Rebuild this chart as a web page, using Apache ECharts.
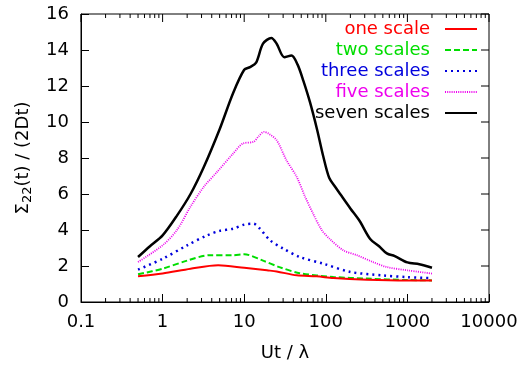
<!DOCTYPE html>
<html><head><meta charset="utf-8">
<script src="https://cdn.jsdelivr.net/npm/echarts@6/dist/echarts.min.js"></script>
<style>html,body{margin:0;padding:0;background:#fff}#c{width:524px;height:367px}</style>
</head><body><div id="c"></div>
<script>
const seriesNames = ['one scale','two scales','three scales','five scales','seven scales'];
const colors = ['#ff0000','#00dd00','#0000dd','#ee00ee','#000000'];

const oneX = [0.5, 1, 2.2, 4.8, 10, 19, 25, 44, 77, 124, 320, 1000, 2000];
const oneY = [1.43, 1.58, 1.85, 2.04, 1.9, 1.76, 1.7, 1.48, 1.43, 1.33, 1.24, 1.2, 1.2];
const twoX = [0.5, 1, 2, 3.8, 7.3, 10, 17, 27, 48, 124, 320, 1000, 2000];
const twoY = [1.54, 1.85, 2.3, 2.6, 2.6, 2.65, 2.3, 1.94, 1.6, 1.39, 1.3, 1.22, 1.2];
const threeX = [0.5, 1, 2, 3.5, 5, 7.3, 10, 13, 15.6, 20.7, 30, 48, 93, 200, 500, 1000, 2000];
const threeY = [1.8, 2.4, 3.15, 3.7, 3.95, 4.07, 4.3, 4.35, 4.07, 3.43, 2.97, 2.5, 2.13, 1.67, 1.48, 1.38, 1.33];
const fiveX = [0.5, 1, 1.5, 2.2, 3.2, 4.6, 7.3, 9.6, 13, 15, 17.5, 20, 25, 33, 44, 56, 70, 89, 112, 164, 240, 380, 560, 1000, 2000];
const fiveY = [2.22, 3.15, 4.0, 5.3, 6.4, 7.2, 8.24, 8.8, 8.9, 9.2, 9.45, 9.35, 8.98, 7.87, 6.95, 5.83, 4.9, 4.0, 3.5, 2.87, 2.6, 2.22, 1.94, 1.76, 1.58];
const sevenX = [0.5, 0.7, 1, 1.5, 2.2, 3.2, 5, 7.3, 10, 11.8, 14, 17, 21.5, 25, 31, 38, 45, 53, 64, 78, 93, 110, 130, 150, 200, 260, 350, 450, 560, 700, 1000, 1400, 2000];
const sevenY = [2.5, 3.1, 3.7, 4.8, 6.0, 7.5, 9.6, 11.6, 12.9, 13.05, 13.3, 14.35, 14.67, 14.35, 13.6, 13.7, 13.2, 12.3, 11.1, 9.6, 8.1, 6.9, 6.4, 6.0, 5.2, 4.5, 3.5, 3.1, 2.7, 2.55, 2.2, 2.1, 1.9];

const xMajorTicks = [0.1, 1, 10, 100, 1000, 10000];
const yMajorTicks = [0, 2, 4, 6, 8, 10, 12, 14, 16];
const minorTicks = [];
[0.1, 1, 10, 100, 1000].forEach(d => { for (let k = 2; k <= 9; k++) minorTicks.push(+(d * k).toPrecision(3)); });

const xs = [oneX, twoX, threeX, fiveX, sevenX];
const ys = [oneY, twoY, threeY, fiveY, sevenY];
const lineStyles = [
  {width: 2, type: 'solid'},
  {width: 2, type: [6, 3]},
  {width: 2.5, type: [2, 4]},
  {width: 1.8, type: [1, 1.2]},
  {width: 2.5, type: 'solid'}
];

const FONT = 'DejaVu Sans';
const FS = 18;

const chart = echarts.init(document.getElementById('c'), null, {renderer: 'canvas'});

const series = seriesNames.map((n, i) => ({
  name: n, type: 'line', xAxisIndex: 0, yAxisIndex: 0,
  data: xs[i].map((x, j) => [x, ys[i][j]]),
  showSymbol: false, symbol: 'none', smooth: 0.3,
  lineStyle: Object.assign({color: colors[i]}, lineStyles[i]),
  itemStyle: {color: colors[i]},
  z: 10 - i
}));

const tickStyle = {stroke: '#000', lineWidth: 1};
series.push({
  type: 'custom', xAxisIndex: 0, yAxisIndex: 0, silent: true,
  data: minorTicks.map(v => [v, 4]).concat(xMajorTicks.map(v => [v, 8])),
  encode: {x: 0},
  renderItem: function (params, api) {
    const len = api.value(1);
    const b = api.coord([api.value(0), 0]);
    const t = api.coord([api.value(0), 16]);
    const ch = [{type: 'line', shape: {x1: t[0], y1: t[1], x2: t[0], y2: t[1] + len}, style: tickStyle}];
    if (len < 8) ch.push({type: 'line', shape: {x1: b[0], y1: b[1], x2: b[0], y2: b[1] - len}, style: tickStyle});
    return {type: 'group', children: ch};
  }
});
series.push({
  type: 'custom', xAxisIndex: 0, yAxisIndex: 0, silent: true,
  data: yMajorTicks.map(v => [10000, v]),
  encode: {x: 0, y: 1},
  renderItem: function (params, api) {
    const p = api.coord([10000, api.value(1)]);
    return {type: 'line', shape: {x1: p[0], y1: p[1], x2: p[0] - 8, y2: p[1]}, style: tickStyle};
  }
});

const legends = seriesNames.map((n, i) => ({
  data: [n], right: 46, top: 20 + i * 21, align: 'right',
  itemWidth: 32, itemHeight: 14, itemGap: 14,
  itemStyle: {opacity: 0},
  lineStyle: {opacity: 1},
  textStyle: {color: colors[i], fontFamily: FONT, fontSize: FS, padding: [0, 10, 0, 0]},
  padding: 0
}));

chart.setOption({
  animation: false,
  backgroundColor: '#fff',
  textStyle: {fontFamily: FONT},
  grid: {left: 81, right: 35, top: 14, bottom: 65, containLabel: false,
         show: true, borderColor: '#000', borderWidth: 1, backgroundColor: 'transparent'},
  legend: legends,
  xAxis: {type: 'log', logBase: 10, min: 0.1, max: 10000, position: 'bottom',
     axisLine: {show: true, lineStyle: {color: '#000', width: 1}},
     axisTick: {inside: true, length: 8, lineStyle: {color: '#000'}},
     splitLine: {show: false}, minorTick: {show: false},
     axisLabel: {color: '#000', fontFamily: FONT, fontSize: FS, margin: 11,
       formatter: v => String(+v.toPrecision(6))},
     name: 'Ut / λ', nameLocation: 'middle', nameGap: 42,
     nameTextStyle: {color: '#000', fontFamily: FONT, fontSize: FS}},
  yAxis: {type: 'value', min: 0, max: 16, interval: 2, position: 'left',
     axisLine: {show: true, lineStyle: {color: '#000', width: 1}},
     axisTick: {inside: true, length: 8, lineStyle: {color: '#000'}},
     splitLine: {show: false},
     axisLabel: {color: '#000', fontFamily: FONT, fontSize: FS, margin: 12},
     name: 'Σ{sub|22}(t) / (2Dt)', nameLocation: 'middle', nameGap: 47, nameRotate: 90,
     nameTextStyle: {color: '#000', fontFamily: FONT, fontSize: FS,
       rich: {sub: {fontFamily: FONT, fontSize: 13, color: '#000', padding: [8, 0, 0, 0]}}}},
  series: series
});
</script></body></html>
